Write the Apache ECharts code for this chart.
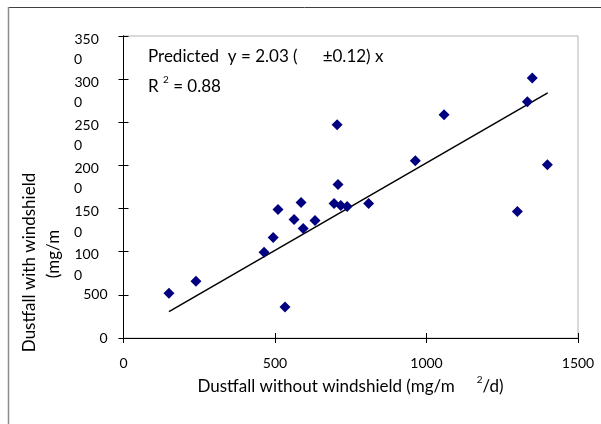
<!DOCTYPE html>
<html><head><meta charset="utf-8">
<script src="https://cdn.jsdelivr.net/npm/echarts@6/dist/echarts.min.js"></script>
<style>html,body{margin:0;padding:0;background:#fff}#c{width:601px;height:424px}</style>
</head><body><div id="c"></div>
<script>
var ptX = [150, 239, 464, 494, 510, 533, 563, 586, 593, 632, 705, 695, 708, 717, 738, 809, 963, 1058, 1300, 1333, 1349, 1399];
var ptY = [520, 658, 993, 1166, 1490, 358, 1374, 1570, 1270, 1363, 2471, 1559, 1778, 1536, 1524, 1559, 2055, 2587, 1467, 2737, 3014, 2009];
var fitX = [150, 1400];
var fitY = [305, 2842];
var xTicks = [0, 500, 1000, 1500];
var yTicks = [0, 500, 1000, 1500, 2000, 2500, 3000, 3500];
var xTitle = 'Dustfall without windshield (mg/m';
var xTitleTail = '/d)';
var yTitle1 = 'Dustfall with windshield';
var yTitle2 = '(mg/m';
var eqText = 'Predicted  y = 2.03 (';
var eqErr = '\u00b10.12) x';
var r2Text = ' = 0.88';

var FONT = 'Lato';
var FS = 14;   // tick labels
var TS = 17;   // titles / annotation
var chart = echarts.init(document.getElementById('c'), null, {renderer: 'canvas'});
function pairs(a, b) { return a.map(function (v, i) { return [v, b[i]]; }); }
var xMin = xTicks[0], xMax = xTicks[xTicks.length - 1], xInt = xTicks[1] - xTicks[0];
var yMin = yTicks[0], yMax = yTicks[yTicks.length - 1], yInt = yTicks[1] - yTicks[0];

// tick labels wrap after three characters, as in the original figure
function yLabHead(v) {
  var s = String(v);
  return s.length > 3 ? '{a|' + s.slice(0, 3) + '}' : s;
}
function yLabTail(v) {
  var s = String(v);
  return s.length > 3 ? s.slice(3) : '';
}
var base = {fontFamily: FONT, fontSize: FS, color: '#000'};
var axisLine = {show: true, lineStyle: {color: '#000', width: 1}};
chart.setOption({
  animation: false,
  backgroundColor: '#fff',
  grid: {left: 123.5, right: 23, top: 36, bottom: 86, show: true, borderColor: '#b4b4b4', borderWidth: 1},
  xAxis: [
    {type: 'value', min: xMin, max: xMax, interval: xInt, position: 'bottom',
     axisLine: axisLine, axisTick: {show: true, inside: false, length: 5, lineStyle: {color: '#000'}},
     splitLine: {show: false},
     axisLabel: Object.assign({margin: 18, formatter: function (v) { return String(v); },
       showMinLabel: true, showMaxLabel: true}, base)},
    {type: 'value', min: xMin, max: xMax, interval: xInt, position: 'bottom', offset: 0,
     axisLine: axisLine, axisTick: {show: true, inside: true, length: 5, lineStyle: {color: '#000'}},
     splitLine: {show: false}, axisLabel: {show: false}}
  ],
  yAxis: [
    {type: 'value', min: yMin, max: yMax, interval: yInt, position: 'left',
     axisLine: axisLine, axisTick: {show: true, inside: false, length: 5, lineStyle: {color: '#000'}},
     splitLine: {show: false},
     axisLabel: Object.assign({margin: 16, formatter: yLabHead, align: 'right', showMinLabel: true, showMaxLabel: true,
       rich: {a: {fontFamily: FONT, fontSize: FS, color: '#000', width: 33, align: 'left', lineHeight: 21, padding: [6, 0, 0, 0]}}}, base)},
    {type: 'value', min: yMin, max: yMax, interval: yInt, position: 'left', offset: 0,
     axisLine: axisLine, axisTick: {show: true, inside: true, length: 5, lineStyle: {color: '#000'}},
     splitLine: {show: false},
     axisLabel: Object.assign({margin: 49.5, formatter: yLabTail, align: 'left', verticalAlign: 'top',
       lineHeight: 21, padding: [13, 0, 0, 0], showMinLabel: true, showMaxLabel: true}, base)}
  ],
  series: [
    {type: 'line', data: pairs(fitX, fitY), symbol: 'none', silent: true,
     lineStyle: {color: '#000', width: 1.5}, z: 2},
    {type: 'scatter', data: pairs(ptX, ptY), symbol: 'diamond', symbolSize: 11,
     itemStyle: {color: '#000080', opacity: 1}, z: 3}
  ],
  graphic: [
    {type: 'line', shape: {x1: 8, y1: 7.5, x2: 601, y2: 7.5}, style: {stroke: '#404040', lineWidth: 1}},
    {type: 'line', shape: {x1: 8.5, y1: 7, x2: 8.5, y2: 424}, style: {stroke: '#8c8c8c', lineWidth: 1.5}},
    {type: 'text', x: 29.5, y: 262.5, rotation: Math.PI / 2,
     style: {text: yTitle1, x: 0, y: 0, align: 'center', verticalAlign: 'middle',
             fontFamily: FONT, fontSize: TS, fill: '#000'}},
    {type: 'text', x: 54, y: 254, rotation: Math.PI / 2,
     style: {text: yTitle2, x: 0, y: 0, align: 'center', verticalAlign: 'middle',
             fontFamily: FONT, fontSize: TS, fill: '#000'}},
    {type: 'text', x: 350.5, y: 385,
     style: {text: '{t|' + xTitle + '}{g| }{s|2}{t|' + xTitleTail + '}', x: 0, y: 0, align: 'center', verticalAlign: 'middle',
             rich: {t: {fontFamily: FONT, fontSize: TS, fill: '#000', lineHeight: 20, verticalAlign: 'bottom'},
                    g: {width: 22, fontSize: TS, lineHeight: 20},
                    s: {fontFamily: FONT, fontSize: 10, fill: '#000', lineHeight: 20, verticalAlign: 'top'}}}},
    {type: 'text', x: 148, y: 57,
     style: {text: '{t|' + eqText + '}{g| }{t|' + eqErr + '}', x: 0, y: 0, align: 'left', verticalAlign: 'middle',
             rich: {t: {fontFamily: FONT, fontSize: TS, fill: '#000'}, g: {width: 25, fontSize: TS}}}},
    {type: 'text', x: 148, y: 85,
     style: {text: '{t|R }{s|2}{t|' + r2Text + '}', x: 0, y: 0, align: 'left', verticalAlign: 'middle',
             rich: {t: {fontFamily: FONT, fontSize: TS, fill: '#000', lineHeight: 20, verticalAlign: 'bottom'},
                    s: {fontFamily: FONT, fontSize: 10, fill: '#000', lineHeight: 20, verticalAlign: 'top'}}}}
  ]
});
</script></body></html>
